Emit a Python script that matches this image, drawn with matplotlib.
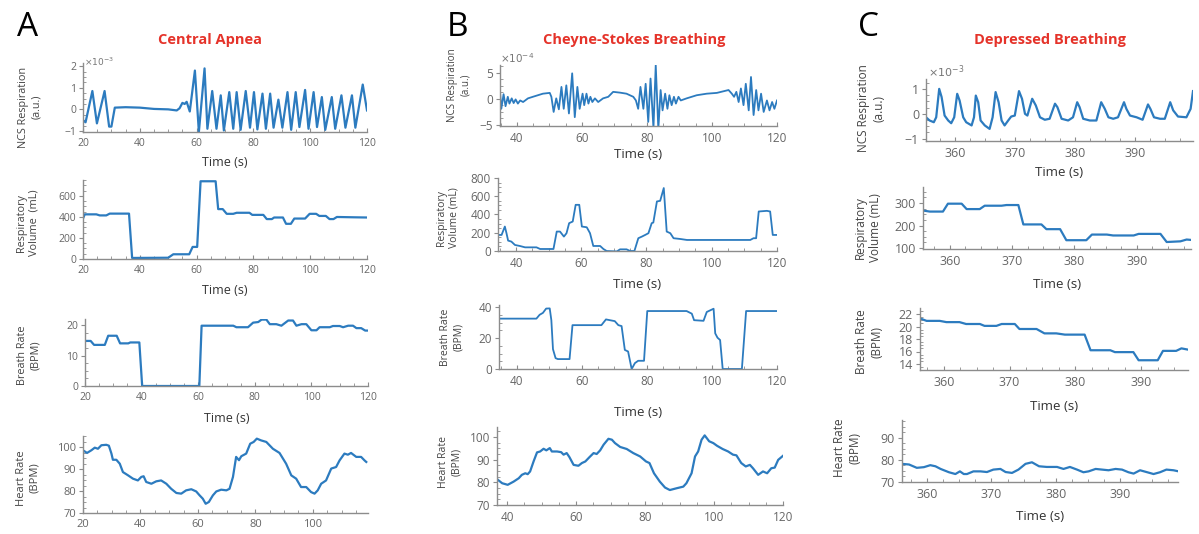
import matplotlib
matplotlib.use("Agg")
import matplotlib.pyplot as plt
from matplotlib.ticker import AutoMinorLocator

W, H = 1199, 534
BLUE = "#2c7bbf"
RED = "#e5332a"

# ---------------- A: Central Apnea ----------------
a_ncs_t = [20, 20.9, 23.3, 24.9, 27.6, 29.2, 30, 31.2, 35, 40, 45, 50, 53, 54, 55, 55.8,
           56.5, 57.6, 59.4, 60.8, 62.8, 63.8, 65.5, 67, 68.5, 69.6, 71.5, 72.9, 74.1, 75.5,
           77.3, 78.8, 80.2, 81.4, 83.2, 84.4, 85.9, 87.1, 88.8, 90.2, 92, 93.3, 94.9, 96.2,
           98.2, 99.4, 101.2, 102.4, 104.1, 105.3, 107.6, 108.8, 111, 112.4, 114.7, 115.9,
           118.5, 120]
a_ncs_v = [-0.5, -0.6, 0.85, -0.65, 0.85, -0.8, -0.8, 0.08, 0.1, 0.08, 0.02, 0.0, -0.05, 0.05,
           0.3, 0.25, 0.35, -0.1, 1.8, -1.05, 1.9, -0.9, 0.85, -0.9, 0.65, -0.98, 0.8, -0.9,
           0.8, -0.95, 0.85, -0.85, 0.8, -0.93, 0.73, -0.9, 0.73, -0.85, 0.45, -0.85, 0.8,
           -0.95, 0.8, -0.82, 0.9, -0.9, 0.8, -0.82, 0.57, -0.95, 0.57, -0.9, 0.65, -0.85,
           0.65, -0.85, 1.15, -0.05]

a_vol_t = [20, 20.6, 24.7, 25.9, 28.2, 29.4, 36.2, 37.3, 50, 51.8, 57.4, 58.6, 60.2, 61.4,
           66.7, 67.6, 69.2, 70.6, 72.9, 74.1, 78.6, 79.6, 83.5, 84.7, 86.5, 87.3, 90.4, 91.5,
           93.2, 94.4, 98.2, 99.8, 102.1, 103.2, 105.5, 106.8, 108.2, 109.4, 115.3, 120]
a_vol_v = [385, 425, 425, 415, 415, 432, 432, 10, 12, 45, 45, 115, 115, 740,
           740, 475, 475, 430, 430, 440, 440, 420, 420, 380, 380, 395, 395, 335,
           335, 385, 385, 430, 430, 410, 410, 380, 380, 400, 397, 395]

a_br_t = [20, 22, 23.2, 27, 28.2, 31.2, 32.4, 35.3, 36, 39.2, 40.2, 60.4, 61.2, 72.4, 73.5,
          77.6, 79.4, 81.2, 82.4, 84.1, 85.3, 87.6, 89.4, 91.8, 93.5, 94.7, 96.5, 98.2, 100,
          101.8, 102.9, 106.5, 107.6, 110, 111.2, 113, 114.7, 115.9, 117.6, 119, 120]
a_br_v = [14.8, 14.8, 13.5, 13.5, 16.5, 16.5, 14, 14, 14.3, 14.3, 0, 0, 19.8, 19.8, 19.3,
          19.3, 20.8, 21, 21.8, 21.8, 20.3, 20.3, 19.8, 21.5, 21.5, 19.8, 20.3, 20.3, 18.3,
          18.3, 19.3, 19.3, 19.7, 19.7, 19.3, 19.8, 19.8, 19, 19, 18.2, 18.2]

a_hr_t = [20, 21.4, 22.9, 24.1, 25.2, 26.4, 28.1, 29, 29.9, 30.4, 31.6, 32.8, 33.9, 35.7,
          37.4, 39.1, 40.3, 41.1, 42, 43.8, 45.5, 47.2, 49, 50.7, 52.5, 54.2, 55.9, 57.7,
          59.4, 60.6, 61.7, 62.7, 63.8, 65.2, 66.4, 68.1, 69.9, 71, 72.2, 73.3, 74.3, 75.1,
          76.8, 78.2, 79.4, 80.5, 82, 83.8, 86.1, 88.4, 90.7, 92.5, 94.2, 95.9, 97.7, 99.4,
          100.6, 101.7, 102.9, 104.6, 106.4, 108.1, 109.3, 111, 112.2, 113.3, 115.1, 116.8,
          118, 118.6]
a_hr_v = [98.5, 97.3, 98.5, 99.7, 99.2, 100.8, 101, 100.6, 97, 94.2, 94.2, 92.4, 88.6, 87.1,
          85.6, 84.8, 86.4, 86.7, 84.1, 83.3, 84.4, 84.8, 83.3, 81, 79.1, 78.8, 80.3, 80.8,
          79.8, 78, 76.5, 74.2, 75, 78, 79.8, 80.6, 80.3, 81, 86.4, 95.5, 94, 95.8,
          97, 101.5, 102.3, 103.8, 103, 102.3, 99.2, 97.3, 92.4, 87.1, 85.6, 81.8, 81.8, 79.5,
          78.8, 80.3, 83.3, 84.8, 90.2, 90.9, 93.9, 97, 96.5, 97.3, 95.5, 95.5,
          93.9, 93.2]

# ---------------- B: Cheyne-Stokes Breathing ----------------
b_ncs_t = [34.65, 35.2, 35.9, 36.5, 37.2, 37.7, 38.4, 39, 39.6, 40.3, 41, 41.9, 43.4, 44.9,
           48, 50.1, 50.6, 51.3, 52.1, 52.9, 53.7, 54.4, 55.2, 56, 57, 57.8, 58.6, 59.3, 60.2,
           60.7, 61.4, 62, 62.6, 63.2, 64, 65, 66.5, 68.1, 69.6, 71.7, 73.7, 75.8, 76.6, 77.3,
           78, 78.9, 79.6, 80.4, 81.1, 82, 82.7, 83.5, 84.2, 84.8, 85.6, 86.3, 86.9, 87.6,
           88.3, 88.9, 89.7, 90.4, 92.2, 95.3, 98.4, 101.5, 105.1, 106.1, 106.8, 107.5, 108.2,
           108.9, 109.7, 110.4, 111.3, 112, 112.8, 113.6, 114.3, 115.1, 115.9, 116.9, 117.7,
           118.5, 119.2, 120]
b_ncs_v = [2.6, -1.9, 0.9, -1.4, 0.4, -0.9, 0.1, -0.8, -0.1, -0.9, -0.3, -0.6, 0.1, 0.4,
           1.0, 1.15, 0.4, -2.5, 0.1, -2.0, 2.3, -1.9, 2.6, -2.8, 4.9, -3.5, 2.3, -1.9, 1.0,
           -1.2, 1.0, -0.9, 0.4, -0.6, 0.1, -0.6, 0.1, 0.4, 1.35, 1.2, 1.0, 0.4, -0.3, -1.9,
           2.3, -1.9, 2.9, -4.4, 3.9, -5.6, 6.5, -5.8, 1.7, -2.2, 1.0, -1.9, 0.7, -1.2,
           0.4, -0.9, 0.4, -0.3, 0.1, 0.7, 1.0, 1.15, 1.7, 1.0, 0.4, 1.35, -0.6,
           2.0, -1.2, 2.9, -2.2, 4.2, -3.1, 1.7, -2.2, 1.0, -2.5, -0.3, -2.2,
           -0.6, -1.9, -0.3]

b_vol_t = [34.6, 35.6, 36.6, 37.1, 37.6, 38.6, 39.7, 41.2, 42.8, 46.3, 47.4, 51.5, 52.5,
           53.5, 54.7, 55.5, 56.3, 57.4, 58.3, 59.4, 60.2, 61.7, 62.7, 63.7, 65.8, 66.8, 67.8,
           70.9, 71.9, 73.9, 75, 76.3, 77.5, 78.6, 79.6, 80.6, 81.6, 82.1, 83.2, 84.2, 85.3,
           86.2, 87.3, 88.3, 90.3, 92.4, 111.8, 112.8, 113.6, 114.4, 116.9, 117.9, 118.7, 120]
b_vol_v = [176, 176, 268, 195, 114, 103, 66, 55, 40, 40, 22, 22, 213,
           213, 158, 195, 305, 323, 506, 506, 268, 260, 195, 55, 55, 22, 0,
           -5, 18, 18, 0, 0, 140, 158, 176, 195, 305, 312, 543, 550, 690,
           213, 195, 140, 132, 121, 121, 140, 140, 433, 440, 433, 176, 176]

b_br_t = [34.1, 46, 47, 48, 49, 50.1, 50.6, 51.1, 51.9, 52.6, 56.2, 57.1, 66, 67.4, 68.6,
          70.1, 71.2, 72.2, 73.2, 74.2, 75.3, 76.3, 77.3, 79.1, 80.1, 92.2, 93.8, 94.5, 97.4,
          98.4, 99.9, 100.5, 101, 101.7, 102.5, 103.3, 109.2, 110.5, 120]
b_br_v = [32.5, 32.5, 35, 36.2, 39, 39.1, 31.5, 12.8, 7, 6.4, 6.4, 28.3, 28.3, 32, 31.5,
          30.9, 28.3, 27.7, 12.3, 11.3, 0, 3.8, 5.3, 5.3, 37.4, 37.4, 35.7, 31.5, 31.1,
          36.8, 38.3, 38.9, 23, 20.2, 18.7, 0, 0, 37.4, 37.4]

b_hr_t = [37.1, 38.6, 40.2, 41.9, 43.4, 44.3, 45.3, 46, 46.7, 47.7, 48.7, 49.6, 50.6, 51.4,
          52.4, 53, 54.5, 55.7, 56.4, 57.3, 58.1, 59.3, 60.7, 61.7, 62.7, 63.9, 65.1, 66, 67,
          68, 69.4, 70.4, 71.3, 72.8, 74.7, 76.6, 78.6, 80.3, 81.3, 82.6, 84.3, 85.8, 87.2,
          89.2, 91.1, 92, 93.5, 94.5, 95.4, 96.4, 97.3, 98.6, 99.8, 100.9, 102.5, 104.1,
          105.5, 106.5, 107.9, 109.2, 110.4, 111.3, 112.8, 114.2, 115.4, 116.6, 117.6, 118.6,
          120]
b_hr_v = [81.4, 79.6, 78.9, 80.3, 81.8, 83.3, 84, 83.6, 84.8, 89.2, 93.2, 93.6, 94.8, 94.1,
          95.1, 93.6, 93.6, 93.3, 92.2, 92.9, 91.1, 87.7, 87.3, 88.5, 89.2, 91.1, 92.9, 92.5,
          94.1, 96.6, 99.2, 98.8, 97.3, 95.6, 94.7, 92.9, 91.4, 89.2, 88.5, 84, 80.3, 77.7,
          76.6, 77.4, 78.1, 79.6, 84, 91.4, 93.6, 98.8, 100.7, 98.1, 97.3, 96.1, 94.7, 93.6,
          92.2, 91.9, 88.5, 87, 87.7, 86.2, 83.3, 84.8, 84, 86.2, 86.5, 89.9,
          91.7]

# ---------------- C: Depressed Breathing ----------------
c_ncs_t = [355.2, 355.8, 356.5, 356.9, 357.4, 357.8, 358.3, 358.9, 359.4, 359.9, 360.4,
           360.8, 361.4, 361.9, 362.8, 363.2, 363.5, 363.9, 364.3, 365, 365.8, 366.3, 366.8,
           367.3, 367.8, 368.3, 368.9, 369.4, 370, 370.7, 371.2, 371.7, 372.1, 372.9, 373.5,
           374.2, 375, 375.8, 376.7, 377.1, 377.8, 378.9, 379.7, 380.4, 380.8, 381.4, 382.5,
           383.6, 384.4, 385, 385.6, 386.4, 387.2, 388.2, 388.6, 389.2, 390.3, 391.3, 392.2,
           392.6, 393.2, 394.2, 395, 395.9, 396.4, 397.2, 398.6, 399.3, 399.7]
c_ncs_v = [-0.14, -0.27, -0.34, -0.14, 1.01, 0.68, -0.07, -0.27, -0.38, -0.14, 0.81,
           0.54, -0.14, -0.34, -0.47, -0.14, 0.74, 0.47, -0.27, -0.47, -0.61, -0.14, 0.88,
           0.47, -0.27, -0.47, -0.27, -0.11, -0.07, 0.92, 0.61, 0.0, -0.07, 0.61, 0.34,
           -0.14, -0.24, -0.2, 0.41, 0.27, -0.2, -0.27, -0.14, 0.47, 0.27, -0.2, -0.27,
           -0.27, 0.47, 0.2, -0.14, -0.2, -0.14, 0.47, 0.2, -0.07, -0.14, -0.24, 0.38,
           0.2, -0.14, -0.2, -0.2, 0.47, 0.14, -0.11, -0.14, 0.2, 0.92]

c_vol_t = [355.6, 356.8, 358.9, 359.7, 361.9, 362.7, 364.8, 365.6, 368.3, 369.1, 371, 371.8,
           374.7, 375.5, 377.7, 378.7, 381.9, 382.8, 385.2, 386.2, 389.5, 390.3, 393.8, 394.8,
           397, 398, 398.8]
c_vol_v = [267, 262, 262, 297, 297, 273, 273, 288, 288, 291, 291, 205,
           205, 184, 184, 135, 135, 160, 160, 156, 156, 163, 163, 127,
           130, 138, 136]

c_br_t = [356.4, 357.4, 359.4, 360.4, 362.4, 363.4, 365.5, 366.2, 368, 368.8, 370.8, 371.5,
          374.1, 375.3, 377.1, 378.4, 381.4, 382.3, 385.3, 386, 388.8, 389.6, 392.5, 393.3,
          395.3, 396.1, 397.1]
c_br_v = [21.3, 20.9, 20.9, 20.7, 20.7, 20.4, 20.4, 20.1, 20.1, 20.4, 20.4, 19.6,
          19.6, 18.9, 18.9, 18.7, 18.7, 16.2, 16.2, 15.9, 15.9, 14.6, 14.6, 16.1,
          16.1, 16.5, 16.3]

c_hr_t = [356.1, 357.2, 358.4, 359.5, 360.5, 361.3, 362.1, 363.4, 364.4, 365.1, 365.7, 366.2,
          367.2, 368.3, 369.3, 370.3, 371.4, 372.2, 373.2, 374.2, 375.3, 376.3, 377.4, 378.6,
          380.2, 381.2, 382.2, 383.3, 384.3, 385.1, 386.2, 387.2, 388.2, 389.3, 390.3, 391.3,
          392.1, 393.1, 394.1, 395.2, 396.2, 397.2, 398.3, 399.1]
c_hr_v = [78.2, 77.9, 76.4, 76.7, 77.6, 77.1, 75.9, 74.4, 73.6, 74.8, 73.6, 73.6,
          74.8, 74.8, 74.5, 75.6, 75.9, 74.5, 74.1, 75.6, 78.2, 78.9, 77.1, 76.8,
          76.8, 75.9, 76.8, 75.6, 74.4, 74.8, 75.9, 75.6, 75.3, 75.9, 75.6, 74.4,
          73.8, 75.3, 74.5, 73.6, 74.4, 75.6, 75.3, 74.8]

fig = plt.figure(figsize=(W / 100, H / 100), dpi=100)
plt.rcParams["font.family"] = ["Open Sans", "DejaVu Sans"]


def panel(box, t, v, xlim, ylim, yticks, xticks, fs, ylabel, ylab_xy, ylab_fs,
          xlabel_y=None, xlab_fs=9, mult=None, lw=1.6):
    left, top, right, bottom = box
    ax = fig.add_axes([left / W, 1 - bottom / H, (right - left) / W, (bottom - top) / H])
    ax.plot(t, v, color=BLUE, lw=lw, solid_joinstyle="round")
    ax.set_xlim(*xlim)
    ax.set_ylim(*ylim)
    ax.set_xticks(xticks)
    ax.set_yticks(yticks)
    for s in ["top", "right"]:
        ax.spines[s].set_visible(False)
    for s in ["left", "bottom"]:
        ax.spines[s].set_color("#8c8c8c")
        ax.spines[s].set_linewidth(1.0)
    ax.xaxis.set_minor_locator(AutoMinorLocator(4))
    ax.yaxis.set_minor_locator(AutoMinorLocator(4))
    ax.tick_params(axis="x", which="both", direction="in", color="#8c8c8c", labelcolor="#666666",
                   labelsize=fs, length=3, pad=4)
    ax.tick_params(axis="y", which="major", direction="out", color="#8c8c8c", labelcolor="#666666",
                   labelsize=fs, length=3, pad=2)
    ax.tick_params(axis="y", which="minor", direction="in", color="#8c8c8c", length=2)
    ax.tick_params(which="minor", length=2)
    fig.text(ylab_xy[0] / W, 1 - ylab_xy[1] / H, ylabel, rotation=90, ha="center", va="center",
             fontsize=ylab_fs, color="#444444", linespacing=1.25)
    if xlabel_y is not None:
        fig.text((left + right) / 2 / W, 1 - xlabel_y / H, "Time (s)", ha="center", va="center",
                 fontsize=xlab_fs, color="#333333")
    if mult is not None:
        fig.text(mult[0] / W, 1 - mult[1] / H, mult[2], ha="left", va="center",
                 fontsize=fs - 1, color="#777777")
    return ax


# column A
panel((83, 63, 367, 132), a_ncs_t, a_ncs_v, (20, 120), (-1.05, 2.15), [-1, 0, 1, 2],
      range(20, 121, 20), 7.5, "NCS Respiration\n(a.u.)", (30, 107), 7.8, 162, 9,
      (84, 62, r"$\times10^{-3}$"))
panel((83, 180, 367, 259), a_vol_t, a_vol_v, (20, 120), (0, 752), [0, 200, 400, 600],
      range(20, 121, 20), 7.5, "Respiratory\nVolume  (mL)", (28, 223), 7.8, 290, 9)
panel((85, 319, 368, 386), a_br_t, a_br_v, (20, 120), (0, 22), [0, 10, 20],
      range(20, 121, 20), 7.5, "Breath Rate\n(BPM)", (29, 355), 7.8, 418, 9)
panel((83, 436, 368, 513), a_hr_t, a_hr_v, (20, 119.2), (70, 105), [70, 80, 90, 100],
      range(20, 101, 20), 8, "Heart Rate\n(BPM)", (28, 478), 8)

# column B
panel((500, 65, 777, 126), b_ncs_t, b_ncs_v, (34.8, 120), (-5.2, 6.5), [-5, 0, 5],
      range(40, 121, 20), 8.5, "NCS Respiration\n(a.u.)", (459, 85), 7, 155, 9.5,
      (500, 59, r"$\times10^{-4}$"), lw=1.3)
panel((498, 178, 777, 251), b_vol_t, b_vol_v, (34.5, 120), (0, 800),
      [0, 200, 400, 600, 800], range(40, 121, 20), 8.5, "Respiratory\nVolume (mL)",
      (448, 218), 7.5, 285, 9.5, lw=1.3)
panel((499, 305, 777, 369), b_br_t, b_br_v, (34.5, 120), (0, 41.3), [0, 20, 40],
      range(40, 121, 20), 8.5, "Breath Rate\n(BPM)", (452, 337), 7.5, 412, 9.5, lw=1.3)
panel((497, 427, 783, 505), b_hr_t, b_hr_v, (37.1, 120), (70, 104.4), [70, 80, 90, 100],
      range(40, 121, 20), 8.5, "Heart Rate\n(BPM)", (450, 462), 7.5)

# column C
panel((926, 79, 1193, 141), c_ncs_t, c_ncs_v, (355.2, 399.7), (-1.1, 1.41), [-1, 0, 1],
      range(360, 391, 10), 9, "NCS Respiration\n(a.u.)", (871, 108), 8.5, 172, 9.5,
      (928, 72, r"$\times10^{-3}$"))
panel((923, 187, 1191, 249), c_vol_t, c_vol_v, (355.7, 398.7), (96, 371), [100, 200, 300],
      range(360, 391, 10), 9, "Respiratory\nVolume (mL)", (868, 228), 8.5, 285, 9.5)
panel((920, 308, 1188, 370), c_br_t, c_br_v, (356.4, 397.1), (13.04, 22.96),
      [14, 16, 18, 20, 22], range(360, 391, 10), 9, "Breath Rate\n(BPM)", (869, 342), 8.5,
      406, 9.5)
panel((902, 420, 1178, 482), c_hr_t, c_hr_v, (356.1, 399), (70, 98), [70, 80, 90],
      range(360, 391, 10), 9, "Heart Rate\n(BPM)", (847, 448), 8.5, 517, 9.5)

# panel letters and titles
for x, letter in [(28, "A"), (458, "B"), (868, "C")]:
    fig.text(x / W, 1 - 27 / H, letter, ha="center", va="center", fontsize=24, color="black")
for x, title in [(210, "Central Apnea"), (634, "Cheyne-Stokes Breathing"),
                 (1050, "Depressed Breathing")]:
    fig.text(x / W, 1 - 40 / H, title, ha="center", va="center", fontsize=10.5,
             color=RED, fontweight="bold")

fig.savefig("out.png", dpi=100)
